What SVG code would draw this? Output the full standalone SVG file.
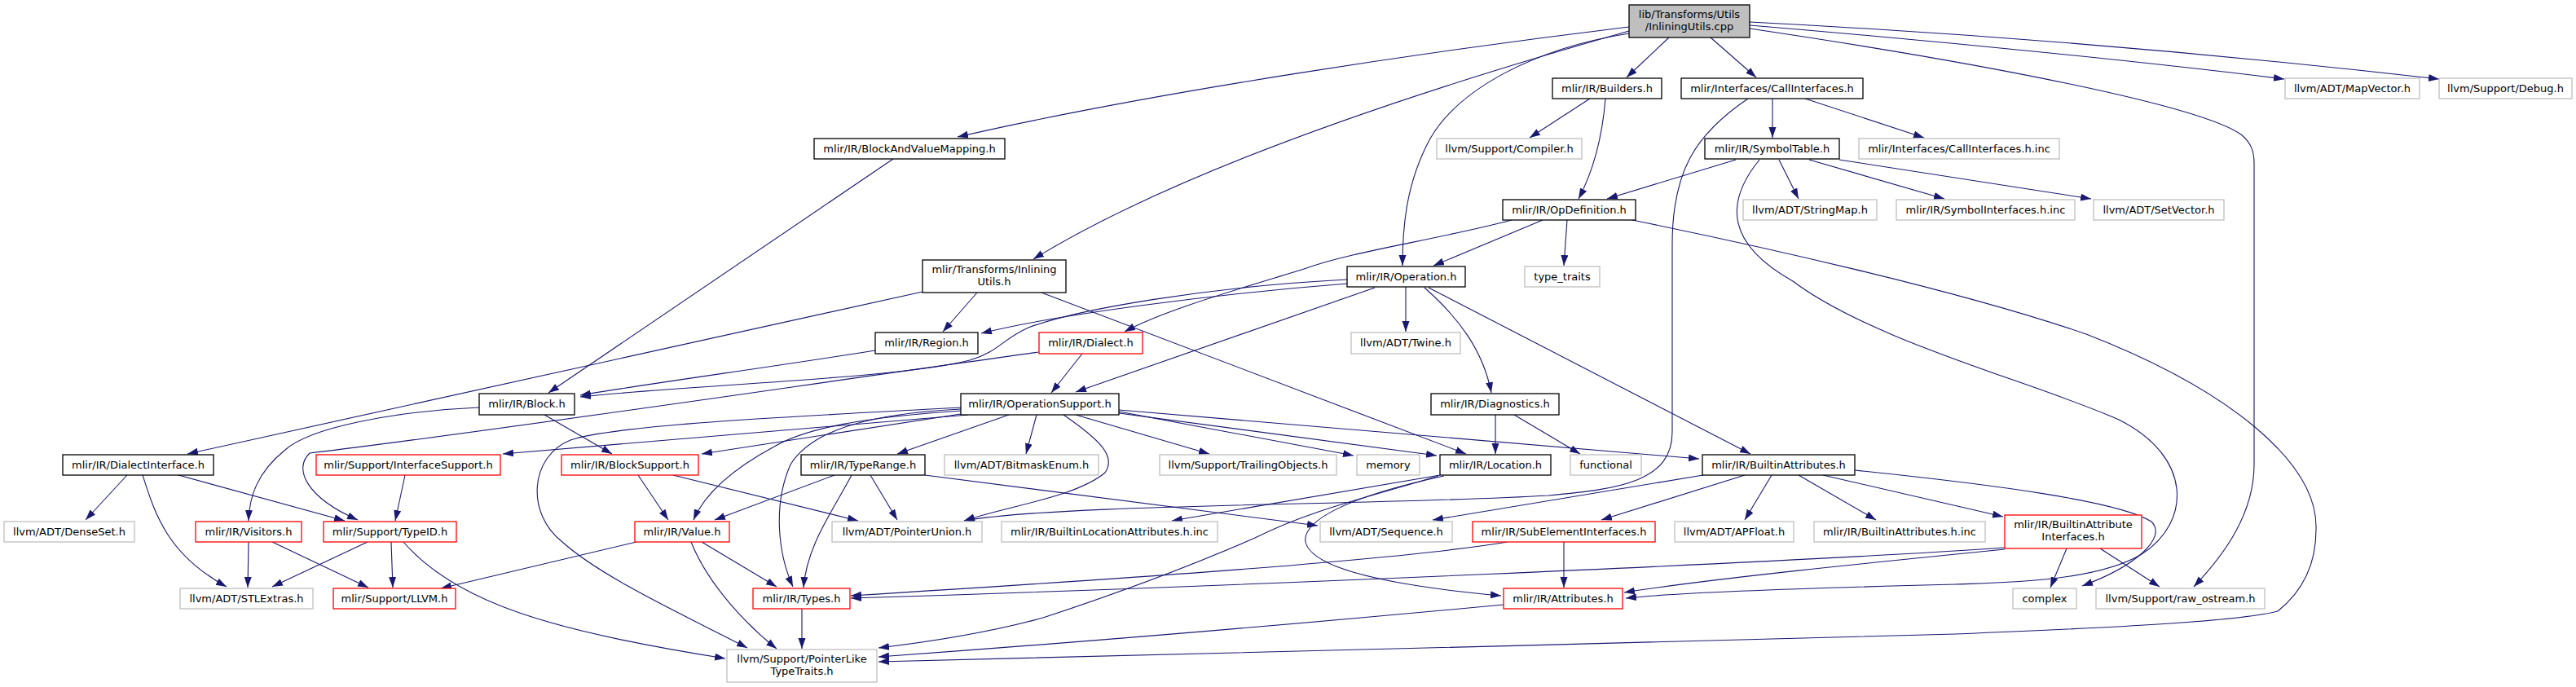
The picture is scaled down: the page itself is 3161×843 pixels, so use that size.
<svg xmlns="http://www.w3.org/2000/svg" width="3161" height="843" viewBox="0 0 3161 843">
<style>
text{font-family:"DejaVu Sans","Liberation Sans",sans-serif;font-size:13px;fill:#000;text-anchor:middle}
.node rect{fill:#fff;stroke:#000;stroke-width:1.3}
.gray rect{stroke:#bfbfbf}
.red rect{stroke:#ff0000}
.main rect{fill:#bfbfbf;stroke:#000}
#edges path{fill:none;stroke:#191970;stroke-width:1.1;marker-end:url(#arr)}
</style>
<defs>
<marker id="arr" markerUnits="userSpaceOnUse" markerWidth="14" markerHeight="10" refX="13" refY="4.5" orient="auto" viewBox="0 0 14 10"><path d="M0,0 L13,4.5 L0,9 z" fill="#191970"/></marker>
</defs>
<rect width="3161" height="843" fill="#fff"/>
<g id="edges">
<path d="M1999,33 C1760,62 1420,112 1175,168"/>
<path d="M1999,38 C1780,100 1460,200 1268,318"/>
<path d="M1999,41 C1880,60 1790,110 1755,170 C1725,225 1721,280 1721,326"/>
<path d="M2048,46 L1996,95"/>
<path d="M2099,46 L2155,95"/>
<path d="M2147,31 C2400,52 2650,78 2803,97"/>
<path d="M2147,27 C2500,45 2800,75 2993,97"/>
<path d="M2147,35 C2450,80 2700,130 2750,165 C2762,175 2766,185 2766,200 L2766,570 C2766,630 2730,680 2692,720"/>
<path d="M1951,121 L1877,169"/>
<path d="M1970,121 C1966,170 1955,210 1937,244"/>
<path d="M2175,121 L2175,169"/>
<path d="M2215,121 L2361,169"/>
<path d="M2145,121 C2080,165 2052,210 2052,300 L2052,530 C2052,590 1990,600 1900,608 C1700,620 1300,618 1183,639"/>
<path d="M2130,196 L1972,244"/>
<path d="M2183,196 L2207,244"/>
<path d="M2220,196 L2386,244"/>
<path d="M2257,196 L2566,244"/>
<path d="M2159,196 C2115,250 2120,300 2200,345 C2300,420 2500,470 2600,515 C2690,560 2690,640 2628,680 C2570,715 2450,715 2400,717 C2200,722 2050,728 1995,734"/>
<path d="M1893,270 L1759,326"/>
<path d="M1923,270 L1919,326"/>
<path d="M1855,270 C1760,295 1660,308 1600,330 C1520,355 1430,380 1380,407"/>
<path d="M2003,270 C2150,300 2400,355 2560,410 C2740,480 2845,570 2842,650 C2842,700 2820,730 2795,750 C2750,762 2600,770 2400,778 C2000,790 1300,805 1078,812"/>
<path d="M1725,352 L1725,407"/>
<path d="M1748,353 C1790,390 1820,430 1830,482"/>
<path d="M1753,353 L2148,557"/>
<path d="M1687,353 L1320,481"/>
<path d="M1653,348 C1500,360 1300,385 1204,409"/>
<path d="M1653,343 C1480,352 1320,380 1262,402 C1230,416 1225,432 1190,442 C1100,465 850,472 712,487"/>
<path d="M1199,359 L1157,407"/>
<path d="M1132,358 L230,557"/>
<path d="M1278,359 L1799,557"/>
<path d="M1096,195 L673,482"/>
<path d="M1074,430 C950,450 800,470 712,485"/>
<path d="M1328,434 L1290,482"/>
<path d="M1275,432 C1000,470 600,530 380,556 C360,575 375,610 439,638"/>
<path d="M588,500 C480,505 380,525 350,552 C315,580 306,610 305,639"/>
<path d="M668,509 L751,557"/>
<path d="M156,583 L105,638"/>
<path d="M175,583 C190,630 205,680 278,720"/>
<path d="M219,583 L423,639"/>
<path d="M497,583 L485,639"/>
<path d="M305,665 L304,721"/>
<path d="M334,665 L452,721"/>
<path d="M451,665 L334,720"/>
<path d="M480,665 L482,721"/>
<path d="M495,665 C560,740 680,775 890,808"/>
<path d="M781,665 L541,722"/>
<path d="M861,665 L953,720"/>
<path d="M848,665 C870,720 920,770 953,796"/>
<path d="M783,583 L820,638"/>
<path d="M826,583 L1053,639"/>
<path d="M1024,583 L877,638"/>
<path d="M1068,583 L1101,638"/>
<path d="M1045,583 C1020,630 990,670 986,721"/>
<path d="M1135,583 L1617,645"/>
<path d="M984,747 L984,796"/>
<path d="M1272,509 L1259,557"/>
<path d="M1238,509 L1101,557"/>
<path d="M1305,509 C1350,540 1370,560 1356,580 C1320,610 1240,620 1183,639"/>
<path d="M1320,509 L1484,557"/>
<path d="M1373,505 L1661,559"/>
<path d="M1373,507 L1763,559"/>
<path d="M1373,503 L2085,563"/>
<path d="M1188,509 L617,557"/>
<path d="M1179,508 L861,557"/>
<path d="M1180,504 C1060,512 990,525 950,548 C900,575 865,605 851,638"/>
<path d="M1179,502 C1060,508 995,530 970,570 C948,620 955,680 973,720"/>
<path d="M1179,500 C1000,510 760,520 700,540 C650,560 645,630 690,665 C740,710 850,760 917,795"/>
<path d="M1835,509 L1835,557"/>
<path d="M1858,509 L1939,557"/>
<path d="M1767,583 L1438,639"/>
<path d="M1765,584 C1680,610 1610,625 1540,660 C1460,695 1380,725 1280,758 C1200,780 1120,790 1078,795"/>
<path d="M1772,584 C1650,610 1598,640 1602,665 C1610,700 1720,720 1842,731"/>
<path d="M2090,583 L1758,638"/>
<path d="M2141,583 L1965,638"/>
<path d="M2174,583 L2141,638"/>
<path d="M2207,583 L2302,638"/>
<path d="M2237,583 L2458,634"/>
<path d="M2276,577 C2450,595 2600,615 2640,640 C2660,660 2620,695 2555,719"/>
<path d="M1919,665 L1919,721"/>
<path d="M1850,665 C1700,690 1300,715 1044,731"/>
<path d="M2536,673 L2516,721"/>
<path d="M2577,673 L2650,720"/>
<path d="M2460,672 C2200,690 1500,720 1044,734"/>
<path d="M2460,674 C2300,690 2100,710 1993,727"/>
<path d="M1845,742 C1600,765 1300,790 1078,806"/>
</g>
<g id="main" class="node main"><rect x="1999" y="6" width="148" height="40"/><text x="2073" y="21.5">lib/Transforms/Utils</text><text x="2073" y="36.5">/InliningUtils.cpp</text></g>
<g id="builders" class="node"><rect x="1905" y="96" width="134" height="25"/><text x="1972" y="112.5">mlir/IR/Builders.h</text></g>
<g id="callinterfaces" class="node"><rect x="2063" y="96" width="223" height="25"/><text x="2174.5" y="112.5">mlir/Interfaces/CallInterfaces.h</text></g>
<g id="mapvector" class="node gray"><rect x="2804" y="96" width="165" height="25"/><text x="2886.5" y="112.5">llvm/ADT/MapVector.h</text></g>
<g id="debug" class="node gray"><rect x="2993" y="96" width="163" height="25"/><text x="3074.5" y="112.5">llvm/Support/Debug.h</text></g>
<g id="bavm" class="node"><rect x="999" y="170" width="234" height="25"/><text x="1116" y="186.5">mlir/IR/BlockAndValueMapping.h</text></g>
<g id="compiler" class="node gray"><rect x="1763" y="170" width="178" height="25"/><text x="1852" y="186.5">llvm/Support/Compiler.h</text></g>
<g id="symboltable" class="node"><rect x="2092" y="170" width="165" height="25"/><text x="2174.5" y="186.5">mlir/IR/SymbolTable.h</text></g>
<g id="callinterfacesinc" class="node gray"><rect x="2281" y="170" width="246" height="25"/><text x="2404" y="186.5">mlir/Interfaces/CallInterfaces.h.inc</text></g>
<g id="opdefinition" class="node"><rect x="1844" y="245" width="163" height="25"/><text x="1925.5" y="261.5">mlir/IR/OpDefinition.h</text></g>
<g id="stringmap" class="node gray"><rect x="2139" y="245" width="164" height="25"/><text x="2221" y="261.5">llvm/ADT/StringMap.h</text></g>
<g id="symbolinterfacesinc" class="node gray"><rect x="2327" y="245" width="219" height="25"/><text x="2436.5" y="261.5">mlir/IR/SymbolInterfaces.h.inc</text></g>
<g id="setvector" class="node gray"><rect x="2569" y="245" width="160" height="25"/><text x="2649" y="261.5">llvm/ADT/SetVector.h</text></g>
<g id="inliningutilsh" class="node"><rect x="1132" y="319" width="176" height="40"/><text x="1220" y="334.5">mlir/Transforms/Inlining</text><text x="1220" y="349.5">Utils.h</text></g>
<g id="operation" class="node"><rect x="1653" y="327" width="145" height="25"/><text x="1725.5" y="343.5">mlir/IR/Operation.h</text></g>
<g id="typetraits" class="node gray"><rect x="1871" y="327" width="92" height="25"/><text x="1917" y="343.5">type_traits</text></g>
<g id="region" class="node"><rect x="1074" y="408" width="126" height="26"/><text x="1137" y="425">mlir/IR/Region.h</text></g>
<g id="dialect" class="node red"><rect x="1275" y="408" width="127" height="26"/><text x="1338.5" y="425">mlir/IR/Dialect.h</text></g>
<g id="twine" class="node gray"><rect x="1658" y="408" width="134" height="26"/><text x="1725" y="425">llvm/ADT/Twine.h</text></g>
<g id="block" class="node"><rect x="588" y="483" width="117" height="26"/><text x="646.5" y="500">mlir/IR/Block.h</text></g>
<g id="operationsupport" class="node"><rect x="1179" y="483" width="194" height="26"/><text x="1276" y="500">mlir/IR/OperationSupport.h</text></g>
<g id="diagnostics" class="node"><rect x="1756" y="483" width="157" height="26"/><text x="1834.5" y="500">mlir/IR/Diagnostics.h</text></g>
<g id="dialectinterface" class="node"><rect x="77" y="558" width="185" height="25"/><text x="169.5" y="574.5">mlir/IR/DialectInterface.h</text></g>
<g id="interfacesupport" class="node red"><rect x="388" y="558" width="226" height="25"/><text x="501" y="574.5">mlir/Support/InterfaceSupport.h</text></g>
<g id="blocksupport" class="node red"><rect x="689" y="558" width="168" height="25"/><text x="773" y="574.5">mlir/IR/BlockSupport.h</text></g>
<g id="typerange" class="node"><rect x="983" y="558" width="152" height="25"/><text x="1059" y="574.5">mlir/IR/TypeRange.h</text></g>
<g id="bitmaskenum" class="node gray"><rect x="1159" y="558" width="189" height="25"/><text x="1253.5" y="574.5">llvm/ADT/BitmaskEnum.h</text></g>
<g id="trailingobjects" class="node gray"><rect x="1423" y="558" width="217" height="25"/><text x="1531.5" y="574.5">llvm/Support/TrailingObjects.h</text></g>
<g id="memory" class="node gray"><rect x="1665" y="558" width="77" height="25"/><text x="1703.5" y="574.5">memory</text></g>
<g id="location" class="node"><rect x="1767" y="558" width="136" height="25"/><text x="1835" y="574.5">mlir/IR/Location.h</text></g>
<g id="functional" class="node gray"><rect x="1927" y="558" width="87" height="25"/><text x="1970.5" y="574.5">functional</text></g>
<g id="builtinattributes" class="node"><rect x="2089" y="558" width="187" height="25"/><text x="2182.5" y="574.5">mlir/IR/BuiltinAttributes.h</text></g>
<g id="denseset" class="node gray"><rect x="5" y="640" width="160" height="25"/><text x="85" y="656.5">llvm/ADT/DenseSet.h</text></g>
<g id="visitors" class="node red"><rect x="240" y="640" width="130" height="25"/><text x="305" y="656.5">mlir/IR/Visitors.h</text></g>
<g id="typeid" class="node red"><rect x="397" y="640" width="163" height="25"/><text x="478.5" y="656.5">mlir/Support/TypeID.h</text></g>
<g id="value" class="node red"><rect x="779" y="640" width="116" height="25"/><text x="837" y="656.5">mlir/IR/Value.h</text></g>
<g id="pointerunion" class="node gray"><rect x="1021" y="640" width="184" height="25"/><text x="1113" y="656.5">llvm/ADT/PointerUnion.h</text></g>
<g id="builtinlocinc" class="node gray"><rect x="1229" y="640" width="265" height="25"/><text x="1361.5" y="656.5">mlir/IR/BuiltinLocationAttributes.h.inc</text></g>
<g id="sequence" class="node gray"><rect x="1620" y="640" width="162" height="25"/><text x="1701" y="656.5">llvm/ADT/Sequence.h</text></g>
<g id="subelement" class="node red"><rect x="1807" y="640" width="224" height="25"/><text x="1919" y="656.5">mlir/IR/SubElementInterfaces.h</text></g>
<g id="apfloat" class="node gray"><rect x="2055" y="640" width="146" height="25"/><text x="2128" y="656.5">llvm/ADT/APFloat.h</text></g>
<g id="builtinattrinc" class="node gray"><rect x="2226" y="640" width="210" height="25"/><text x="2331" y="656.5">mlir/IR/BuiltinAttributes.h.inc</text></g>
<g id="builtinattrinterfaces" class="node red"><rect x="2460" y="632" width="168" height="41"/><text x="2544" y="648">mlir/IR/BuiltinAttribute</text><text x="2544" y="663">Interfaces.h</text></g>
<g id="stlextras" class="node gray"><rect x="221" y="722" width="163" height="25"/><text x="302.5" y="738.5">llvm/ADT/STLExtras.h</text></g>
<g id="llvm" class="node red"><rect x="409" y="722" width="150" height="25"/><text x="484" y="738.5">mlir/Support/LLVM.h</text></g>
<g id="types" class="node red"><rect x="924" y="722" width="119" height="25"/><text x="983.5" y="738.5">mlir/IR/Types.h</text></g>
<g id="attributes" class="node red"><rect x="1845" y="722" width="146" height="25"/><text x="1918" y="738.5">mlir/IR/Attributes.h</text></g>
<g id="complex" class="node gray"><rect x="2470" y="722" width="78" height="25"/><text x="2509" y="738.5">complex</text></g>
<g id="rawostream" class="node gray"><rect x="2572" y="722" width="207" height="25"/><text x="2675.5" y="738.5">llvm/Support/raw_ostream.h</text></g>
<g id="pointerlike" class="node gray"><rect x="892" y="797" width="184" height="40"/><text x="984" y="812.5">llvm/Support/PointerLike</text><text x="984" y="827.5">TypeTraits.h</text></g>
</svg>
